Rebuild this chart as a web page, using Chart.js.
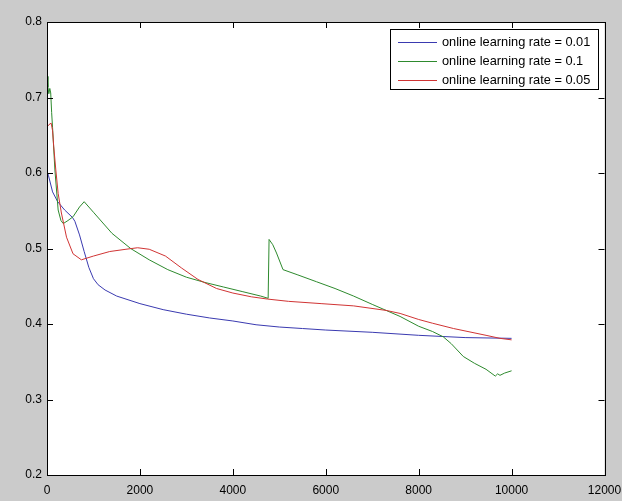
<!DOCTYPE html>
<html>
<head>
<meta charset="utf-8">
<script src="https://cdn.jsdelivr.net/npm/chart.js@4/dist/chart.umd.min.js"></script>
<style>
  html, body { margin: 0; padding: 0; background: #cbcbcb; }
  #wrap { width: 622px; height: 501px; position: relative; }
</style>
</head>
<body>
<div id="wrap"><canvas id="c" width="622" height="501"></canvas></div>
<script>
// Training error versus iteration for three online learning rates
const seriesLabels = [
  'online learning rate = 0.01',
  'online learning rate = 0.1',
  'online learning rate = 0.05'
];

const rate001Iter = [0, 30, 120, 230, 380, 550, 600, 700, 800, 900, 1000, 1100, 1250, 1500, 2000, 2500, 3000, 3500, 4000, 4500, 5000, 5500, 6000, 7000, 8000, 9000, 10000];
const rate001Error = [0.603, 0.597, 0.575, 0.562, 0.551, 0.541, 0.536, 0.518, 0.496, 0.475, 0.460, 0.452, 0.445, 0.437, 0.427, 0.419, 0.413, 0.408, 0.404, 0.399, 0.396, 0.394, 0.392, 0.389, 0.385, 0.382, 0.381];

const rate01Iter = [0, 20, 40, 60, 80, 100, 120, 170, 240, 300, 350, 450, 560, 700, 800, 1000, 1400, 1800, 2200, 2600, 3000, 3400, 3800, 4200, 4600, 4760, 4780, 4860, 4940, 5080, 5400, 5800, 6200, 6600, 7000, 7300, 7600, 8000, 8300, 8530, 8700, 8960, 9200, 9450, 9650, 9700, 9750, 9850, 10000];
const rate01Error = [0.728, 0.714, 0.705, 0.712, 0.706, 0.680, 0.660, 0.604, 0.551, 0.537, 0.533, 0.537, 0.542, 0.555, 0.562, 0.548, 0.520, 0.500, 0.485, 0.472, 0.462, 0.455, 0.449, 0.443, 0.437, 0.434, 0.512, 0.505, 0.494, 0.472, 0.465, 0.456, 0.447, 0.437, 0.426, 0.418, 0.410, 0.397, 0.390, 0.383, 0.374, 0.357, 0.348, 0.340, 0.331, 0.334, 0.332, 0.335, 0.338];

const rate005Iter = [0, 40, 90, 120, 145, 190, 240, 310, 420, 560, 740, 1000, 1350, 1700, 1950, 2200, 2550, 2900, 3250, 3650, 4000, 4400, 4750, 5200, 5900, 6600, 7300, 7600, 8000, 8300, 8750, 9450, 9750, 10000];
const rate005Error = [0.661, 0.664, 0.666, 0.656, 0.635, 0.604, 0.573, 0.547, 0.515, 0.493, 0.485, 0.490, 0.496, 0.499, 0.501, 0.499, 0.490, 0.474, 0.459, 0.447, 0.441, 0.436, 0.433, 0.430, 0.427, 0.424, 0.418, 0.414, 0.406, 0.401, 0.394, 0.385, 0.381, 0.379];

const xTicks = [0, 2000, 4000, 6000, 8000, 10000, 12000];
const yTicks = [0.2, 0.3, 0.4, 0.5, 0.6, 0.7, 0.8];

const toPoints = (xs, ys) => xs.map((x, i) => ({ x: x, y: ys[i] }));

const FONT = '"Liberation Sans", Arial, sans-serif';

// Axes box with inward tick marks on all four sides (MATLAB style)
const boxTicks = {
  id: 'boxTicks',
  afterDatasetsDraw(chart) {
    const { ctx, chartArea: a, scales } = chart;
    const len = 6;
    ctx.save();
    ctx.strokeStyle = '#000';
    ctx.lineWidth = 1;
    ctx.beginPath();
    scales.x.ticks.forEach(t => {
      const px = Math.round(scales.x.getPixelForValue(t.value)) + 0.5;
      ctx.moveTo(px, a.bottom); ctx.lineTo(px, a.bottom - len);
      ctx.moveTo(px, a.top); ctx.lineTo(px, a.top + len);
    });
    scales.y.ticks.forEach(t => {
      const py = Math.round(scales.y.getPixelForValue(t.value)) + 0.5;
      ctx.moveTo(a.left, py); ctx.lineTo(a.left + len, py);
      ctx.moveTo(a.right, py); ctx.lineTo(a.right - len, py);
    });
    ctx.stroke();
    ctx.strokeRect(Math.round(a.left) + 0.5, Math.round(a.top) + 0.5,
                   Math.round(a.right - a.left), Math.round(a.bottom - a.top));
    ctx.restore();
  }
};

// Boxed legend in the upper right corner of the axes
const boxLegend = {
  id: 'boxLegend',
  afterDraw(chart) {
    const { ctx, chartArea: a } = chart;
    const right = a.right - 6.5, top = a.top + 7;
    const w = 208, h = 60, rowH = 19;
    const left = right - w;
    ctx.save();
    ctx.fillStyle = '#fff';
    ctx.fillRect(left, top, w, h);
    ctx.strokeStyle = '#000';
    ctx.lineWidth = 1;
    ctx.strokeRect(Math.round(left) + 0.5, Math.round(top) + 0.5, w, h);
    ctx.font = '12.8px ' + FONT;
    ctx.textBaseline = 'middle';
    chart.data.datasets.forEach((ds, i) => {
      const y = Math.round(top + 12.7 + i * rowH) + 0.5;
      ctx.strokeStyle = ds.borderColor;
      ctx.beginPath();
      ctx.moveTo(left + 8, y); ctx.lineTo(left + 47, y);
      ctx.stroke();
      ctx.fillStyle = '#000';
      ctx.fillText(ds.label, left + 52, y);
    });
    ctx.restore();
  }
};

// Grey figure background and white axes area
const axesFill = {
  id: 'axesFill',
  beforeDraw(chart) {
    const { ctx, chartArea: a } = chart;
    ctx.save();
    ctx.fillStyle = '#cbcbcb';
    ctx.fillRect(0, 0, chart.width, chart.height);
    ctx.fillStyle = '#fff';
    ctx.fillRect(a.left, a.top, a.right - a.left, a.bottom - a.top);
    ctx.restore();
  }
};

new Chart(document.getElementById('c'), {
  type: 'line',
  data: {
    datasets: [
      { label: seriesLabels[0], data: toPoints(rate001Iter, rate001Error), borderColor: '#3a3ab0', order: 3 },
      { label: seriesLabels[1], data: toPoints(rate01Iter, rate01Error), borderColor: '#2e8a2e', order: 2 },
      { label: seriesLabels[2], data: toPoints(rate005Iter, rate005Error), borderColor: '#d03434', order: 1 }
    ]
  },
  options: {
    responsive: false,
    animation: false,
    devicePixelRatio: 1,
    layout: { padding: { left: 0, right: 17.5, top: 22, bottom: 0 } },
    elements: {
      line: { borderWidth: 1, tension: 0, fill: false },
      point: { radius: 0, hoverRadius: 0 }
    },
    plugins: {
      legend: { display: false },
      tooltip: { enabled: false }
    },
    scales: {
      x: {
        type: 'linear',
        min: 0, max: 12000,
        afterBuildTicks: s => { s.ticks = xTicks.map(v => ({ value: v })); },
        afterFit: s => { s.height = 26; s.paddingLeft = 0; s.paddingRight = 0; },
        grid: { display: false, drawTicks: false },
        border: { display: false },
        ticks: {
          color: '#000', padding: 8, maxRotation: 0, autoSkip: false,
          font: { family: FONT, size: 12 },
          callback: v => String(v)
        }
      },
      y: {
        type: 'linear',
        min: 0.2, max: 0.8,
        afterBuildTicks: s => { s.ticks = yTicks.map(v => ({ value: v })); },
        afterFit: s => { s.width = 47; s.paddingTop = 0; s.paddingBottom = 0; },
        grid: { display: false, drawTicks: false },
        border: { display: false },
        ticks: {
          color: '#000', padding: 5,
          font: { family: FONT, size: 12 },
          callback: v => Number(v).toFixed(1)
        }
      }
    }
  },
  plugins: [axesFill, boxTicks, boxLegend]
});
</script>
</body>
</html>
